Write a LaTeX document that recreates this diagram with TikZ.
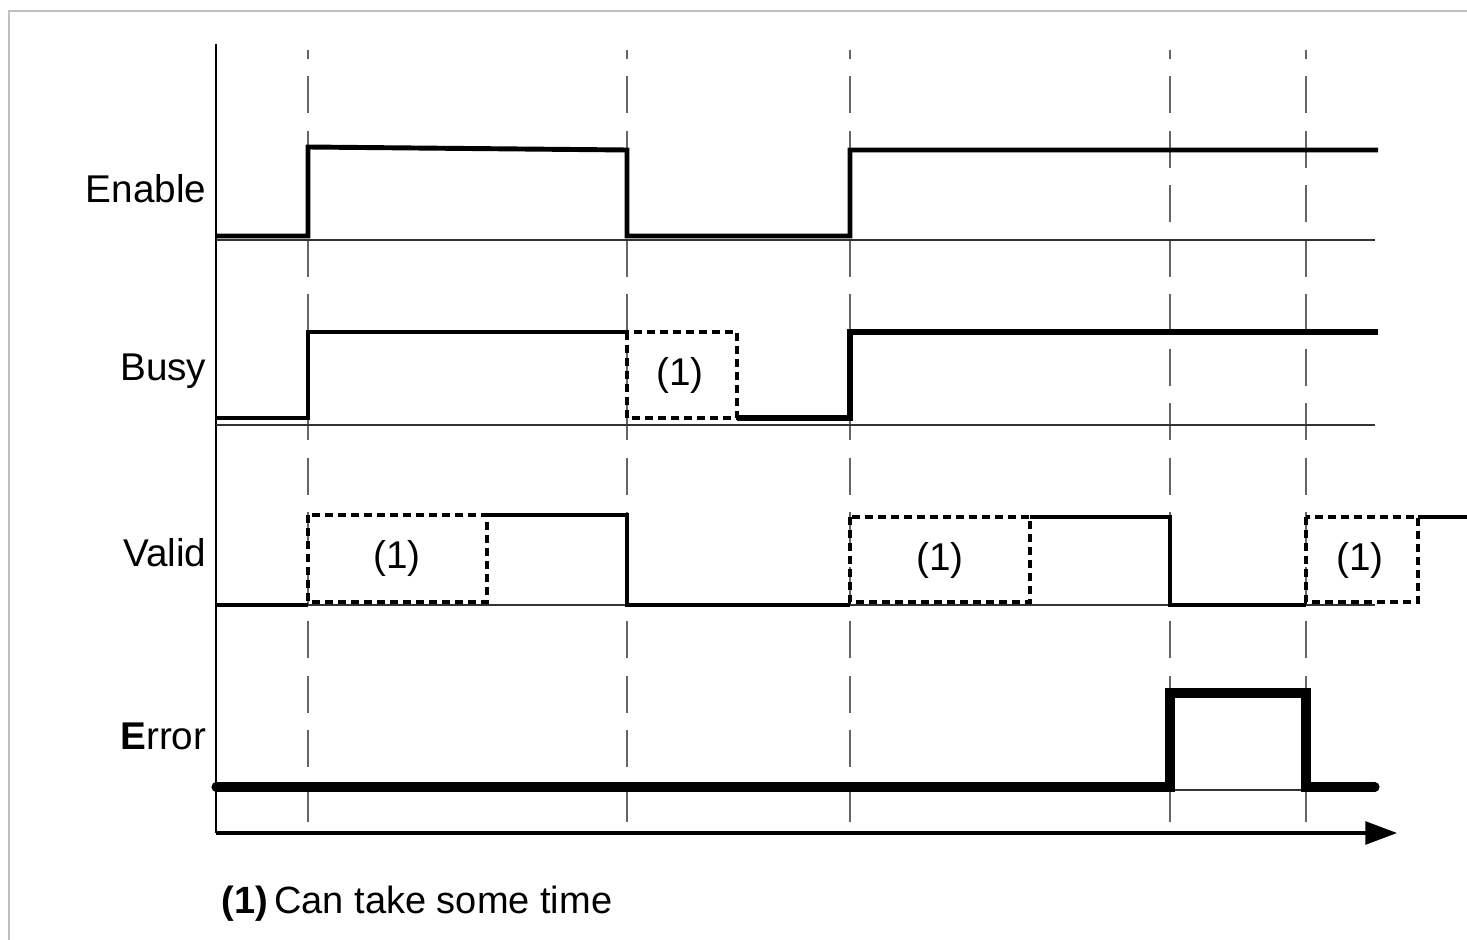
\documentclass[tikz,border=0pt]{standalone}
\usepackage{fontspec}
\setmainfont{Liberation Sans}
\usetikzlibrary{arrows.meta}
\begin{document}
\begin{tikzpicture}[x=0.01cm,y=-0.01cm,
  frame/.style={draw=black!25,line width=0.6pt},
  axisline/.style={draw=black,line width=0.7pt},
  baseline/.style={draw=black!80,line width=0.45pt},
  marker/.style={draw=black!60,line width=0.5pt,dash pattern=on 10.5pt off 5pt,dash phase=8pt},
  sigthin/.style={draw=black,line width=0.9pt},
  sigmid/.style={draw=black,line width=1.4pt},
  sigheavy/.style={draw=black,line width=1.8pt},
  sigerr/.style={draw=black,line width=2.6pt,line cap=round},
  waitbox/.style={draw=black,line width=1pt,dash pattern=on 2.2pt off 1.5pt},
  siglabel/.style={anchor=east,font=\fontsize{11pt}{13pt}\selectfont,inner sep=0pt},
  waitlabel/.style={font=\fontsize{11pt}{13pt}\selectfont,inner sep=0pt}]
\useasboundingbox (0,0) rectangle (1467,940);

% outer frame
\draw[frame] (9,940) -- (9,11) -- (1467,11);

% event markers
\foreach \t in {308,627,850,1170,1306}
  \draw[marker] (\t,50) -- (\t,833);

% axes
\draw[axisline] (216,44) -- (216,833);
\draw[axisline,line width=0.9pt,-{Triangle[length=9pt,width=6.5pt]}] (216,833) -- (1397,833);

% channel baselines
\draw[baseline] (216,240) -- (1375,240);
\draw[baseline] (216,425) -- (1375,425);
\draw[baseline] (216,605) -- (1375,605);
\draw[baseline] (216,790) -- (1375,790);

% signal names
\node[siglabel] (lenable) at (207,189) {Enable};
\node[siglabel] (lbusy)   at (207,371) {Busy};
\node[siglabel] (lvalid)  at (207,553) {Valid};
\node[siglabel] (lerror)  at (207,736) {\textbf{E}rror};

% Enable
\draw[sigmid] (216,236) -- (308,236) -- (308,147) -- (627,150) -- (627,236)
  -- (850,236) -- (850,150) -- (1378,150);

% Busy
\draw[sigthin] (216,418) -- (308,418) -- (308,332) -- (627,332);
\draw[waitbox] (627,332) rectangle (737,418);
\node[waitlabel] (wb1) at (680,375) {(1)};
\draw[sigheavy] (737,418) -- (850,418) -- (850,332) -- (1378,332);

% Valid
\draw[sigthin] (216,605) -- (308,605);
\draw[waitbox] (308,515) rectangle (487,602);
\node[waitlabel] (wv1) at (397,558) {(1)};
\draw[sigthin] (487,515) -- (627,515) -- (627,605) -- (850,605);
\draw[waitbox] (850,517) rectangle (1030,602);
\node[waitlabel] (wv2) at (940,560) {(1)};
\draw[sigmid] (1030,517) -- (1170,517) -- (1170,605) -- (1306,605);
\draw[waitbox] (1306,517) rectangle (1418,602);
\node[waitlabel] (wv3) at (1360,560) {(1)};
\draw[sigmid] (1418,517) -- (1467,517);

% Error
\draw[sigerr] (216,787) -- (1170,787) -- (1170,693) -- (1306,693) -- (1306,787) -- (1375,787);

% footnote
\node[anchor=west,inner sep=0pt,font=\fontsize{10.8pt}{13pt}\selectfont] (note) at (221,904)
  {\textbf{(1)}\,Can take some time};
\end{tikzpicture}
\end{document}
